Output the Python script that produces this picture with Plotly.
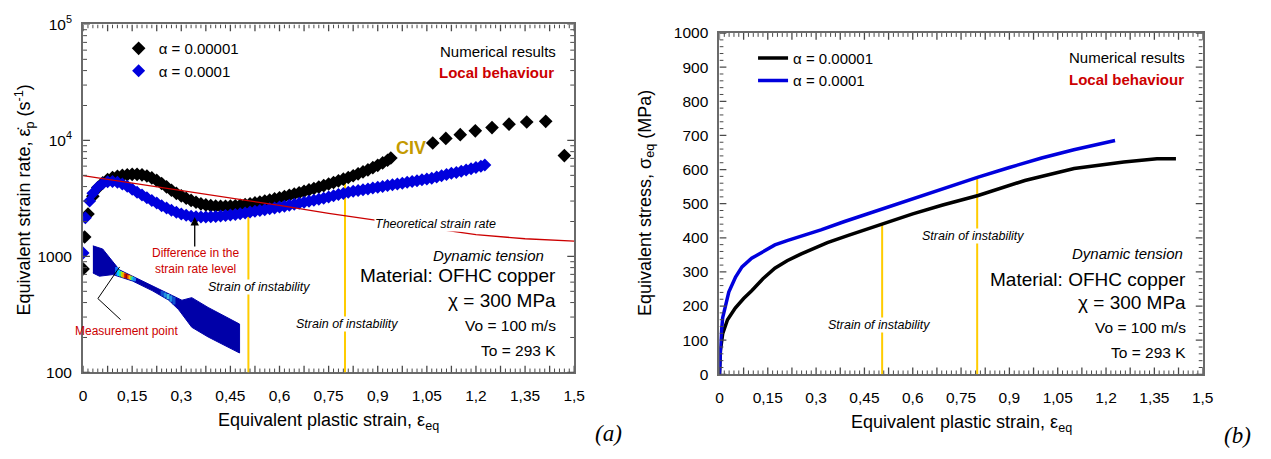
import numpy as np
import plotly.graph_objects as go

W, H = 1271, 459
FONT = "Liberation Sans, Arial, sans-serif"

# ---------------- data: left panel (strain rate, log axis) ----------------
bk_x = [0.0, 0.005, 0.015, 0.03, 0.045, 0.06, 0.075, 0.09, 0.105, 0.12, 0.135, 0.15, 0.165, 0.18,
        0.195, 0.21, 0.225, 0.24, 0.255, 0.27, 0.285, 0.3, 0.315, 0.33, 0.345, 0.36, 0.375, 0.39,
        0.405, 0.42, 0.435, 0.45, 0.465, 0.48, 0.495, 0.51, 0.525, 0.54, 0.555, 0.57, 0.585, 0.6,
        0.615, 0.63, 0.645, 0.66, 0.675, 0.69, 0.705, 0.72, 0.735, 0.75, 0.765, 0.78, 0.795, 0.81,
        0.825, 0.84, 0.855, 0.87, 0.885, 0.9, 0.915, 0.93, 0.94,
        1.068, 1.108, 1.152, 1.198, 1.249, 1.301, 1.355, 1.413, 1.47]
bk_y = [780, 1470, 2320, 3300, 3900, 4300, 4600, 4780, 4900, 4990, 5060, 5100, 5100, 5050,
        4930, 4750, 4520, 4250, 3980, 3720, 3500, 3330, 3170, 3040, 2930, 2840, 2780, 2740,
        2710, 2700, 2700, 2710, 2730, 2760, 2800, 2840, 2890, 2940, 3000, 3060, 3130, 3200,
        3280, 3360, 3450, 3540, 3640, 3740, 3850, 3960, 4080, 4210, 4340, 4480, 4630, 4790,
        4960, 5150, 5350, 5570, 5820, 6100, 6400, 6750, 7050,
        9500, 10400, 11200, 12100, 12900, 13800, 14400, 14600, 7400]

bl_x = [0.0, 0.007, 0.02, 0.03, 0.045, 0.06, 0.075, 0.09, 0.105, 0.12, 0.135, 0.15, 0.165, 0.18,
        0.195, 0.21, 0.225, 0.24, 0.255, 0.27, 0.285, 0.3, 0.315, 0.33, 0.345, 0.36, 0.375, 0.39,
        0.405, 0.42, 0.435, 0.45, 0.465, 0.48, 0.495, 0.51, 0.525, 0.54, 0.555, 0.57, 0.585, 0.6,
        0.615, 0.63, 0.645, 0.66, 0.675, 0.69, 0.705, 0.72, 0.735, 0.75, 0.765, 0.78, 0.795, 0.81,
        0.825, 0.84, 0.855, 0.87, 0.885, 0.9, 0.915, 0.93, 0.945, 0.96, 0.975, 0.99, 1.005, 1.02,
        1.035, 1.05, 1.065, 1.08, 1.095, 1.11, 1.125, 1.14, 1.155, 1.17, 1.185, 1.2, 1.215, 1.227]
bl_y = [1070, 2150, 3000, 3500, 3950, 4250, 4400, 4420, 4350, 4200, 4020, 3800, 3580, 3380,
        3200, 3030, 2880, 2740, 2610, 2500, 2400, 2320, 2260, 2220, 2200, 2190, 2190, 2200,
        2210, 2230, 2250, 2270, 2300, 2330, 2370, 2410, 2450, 2490, 2530, 2570, 2610, 2660,
        2710, 2760, 2810, 2870, 2930, 2990, 3050, 3110, 3180, 3250, 3330, 3410, 3490, 3580,
        3640, 3700, 3760, 3820, 3880, 3950, 4010, 4080, 4140, 4210, 4280, 4350, 4420, 4490,
        4570, 4640, 4720, 4830, 4950, 5080, 5200, 5300, 5420, 5560, 5700, 5850, 6000, 6130]

theo_x = [0, 0.15, 0.3, 0.45, 0.6, 0.75, 0.9, 1.05, 1.2, 1.35, 1.5]
theo_y = [4980, 4300, 3700, 3200, 2750, 2350, 2030, 1770, 1540, 1420, 1356]

instab_x = [0.505, 0.8]
instab_top_left = [2350, 4600]
instab_top_right = [442, 578]

# specimen picture (deformed bar) drawn in the strain-rate axes
spec_top_x = [0.030, 0.060, 0.111, 0.161, 0.232, 0.302, 0.332, 0.382, 0.478]
spec_top_y = [1233, 1158, 766, 654, 524, 419, 441, 363, 261]
spec_bot_x = [0.030, 0.050, 0.091, 0.151, 0.211, 0.262, 0.292, 0.332, 0.382, 0.478]
spec_bot_y = [720, 675, 697, 614, 507, 419, 347, 245, 202, 147]
stripe_x = [0.1026, 0.1087, 0.1147, 0.1207, 0.1253, 0.1298, 0.1343, 0.1388, 0.1434, 0.1479,
            0.1524, 0.157, 0.2415, 0.2505, 0.2596, 0.2686, 0.2777]
stripe_col = ["#1070ff", "#00d0ff", "#40e080", "#c0e000", "#ff9000", "#d02000", "#a00000",
              "#e04000", "#ffc000", "#80e040", "#00d0e0", "#2080f0",
              "#1050d0", "#2090e0", "#40c0e0", "#2090e0", "#1050d0"]

# ---------------- data: right panel (stress) ----------------
sbk_x = [0, 0.003, 0.01, 0.025, 0.049, 0.075, 0.10, 0.135, 0.172, 0.21, 0.254, 0.3, 0.335,
         0.4, 0.458, 0.509, 0.6, 0.693, 0.803, 0.948, 1.101, 1.255, 1.358, 1.417]
sbk_y = [0, 70, 119, 160, 194, 222, 245, 280, 311, 333, 353, 372, 386,
         407, 426, 442, 470, 496, 524, 568, 603, 622, 632, 632]
sbl_x = [0, 0.004, 0.01, 0.02, 0.029, 0.05, 0.07, 0.1, 0.131, 0.172, 0.21, 0.254, 0.315,
         0.386, 0.5, 0.6, 0.693, 0.803, 0.9, 1.0, 1.1, 1.228]
sbl_y = [0, 100, 166, 210, 241, 285, 315, 340, 358, 379, 392, 404, 423,
         447, 483, 515, 545, 578, 606, 634, 658, 685]

# tick labels
x_label_vals = [0, 0.15, 0.3, 0.45, 0.6, 0.75, 0.9, 1.05, 1.2, 1.35, 1.5]
x_label_text = ["0", "0,15", "0,3", "0,45", "0,6", "0,75", "0,9", "1,05", "1,2", "1,35", "1,5"]
y1_tick_vals = [100, 1000, 10000, 100000]
y1_tick_text = ["100", "1000", "10<sup>4</sup>", "10<sup>5</sup>"]
y2_tick_vals = [0, 100, 200, 300, 400, 500, 600, 700, 800, 900, 1000]
y2_tick_text = [str(v) for v in y2_tick_vals]

names = ["α = 0.00001", "α = 0.0001"]

assert len(bk_x) == len(bk_y) and len(bl_x) == len(bl_y)
assert len(sbk_x) == len(sbk_y) and len(sbl_x) == len(sbl_y)

BLACK = "#000000"
BLUE = "#0000dd"
RED = "#cc0000"
YEL = "#ffcc00"
TK = "#4a4a4a"

# tick-mark positions (axis structure)
x_major_marks = [round(i * 0.075, 4) for i in range(21)]
x_minor_marks = [round(i * 0.015, 4) for i in range(101) if i % 5 != 0]
y1_minor_marks = [k * 10 ** d for d in (2, 3, 4) for k in range(2, 10)]
y2_minor_marks = [v for v in range(0, 1001, 20) if v % 100 != 0]


def px(x):
    return x / W


def py(y):
    return 1 - y / H


fig = go.Figure()

yl_x, yl_y = [], []
for xv, top in zip(instab_x, instab_top_left):
    yl_x += [xv, xv, None]
    yl_y += [100, top, None]
fig.add_trace(go.Scatter(x=yl_x, y=yl_y, mode="lines", line=dict(color=YEL, width=2),
                         showlegend=False, xaxis="x", yaxis="y", hoverinfo="skip"))

poly_x = spec_top_x + spec_bot_x[::-1]
poly_y = spec_top_y + spec_bot_y[::-1]
fig.add_trace(go.Scatter(x=poly_x, y=poly_y, mode="lines", fill="toself", fillcolor="#0000a8",
                         line=dict(color="#0000a8", width=1), showlegend=False,
                         xaxis="x", yaxis="y", hoverinfo="skip"))
ltop = np.interp(stripe_x, spec_top_x, np.log10(spec_top_y))
lbot = np.interp(stripe_x, spec_bot_x, np.log10(spec_bot_y))
for xs, t, b, c in zip(stripe_x, ltop, lbot, stripe_col):
    fig.add_trace(go.Scatter(x=[xs, xs], y=[10 ** (t - 0.005), 10 ** (b + 0.005)], mode="lines",
                             line=dict(color=c, width=3), showlegend=False,
                             xaxis="x", yaxis="y", hoverinfo="skip"))

fig.add_trace(go.Scatter(x=bk_x, y=bk_y, mode="markers", name=names[0],
                         marker=dict(symbol="diamond", size=10.5, color=BLACK),
                         xaxis="x", yaxis="y", legend="legend"))
fig.add_trace(go.Scatter(x=bl_x, y=bl_y, mode="markers", name=names[1],
                         marker=dict(symbol="diamond", size=10, color=BLUE),
                         xaxis="x", yaxis="y", legend="legend"))
fig.add_trace(go.Scatter(x=theo_x, y=theo_y, mode="lines", line=dict(color=RED, width=1.3),
                         showlegend=False, xaxis="x", yaxis="y", hoverinfo="skip"))

yr_x, yr_y = [], []
for xv, top in zip(instab_x, instab_top_right):
    yr_x += [xv, xv, None]
    yr_y += [0, top, None]
fig.add_trace(go.Scatter(x=yr_x, y=yr_y, mode="lines", line=dict(color=YEL, width=2),
                         showlegend=False, xaxis="x2", yaxis="y2", hoverinfo="skip"))
fig.add_trace(go.Scatter(x=sbk_x, y=sbk_y, mode="lines", name=names[0],
                         line=dict(color=BLACK, width=3.5),
                         xaxis="x2", yaxis="y2", legend="legend2"))
fig.add_trace(go.Scatter(x=sbl_x, y=sbl_y, mode="lines", name=names[1],
                         line=dict(color=BLUE, width=3.5),
                         xaxis="x2", yaxis="y2", legend="legend2"))


# ---- inside tick marks drawn as line traces on each panel's own scales ----
def tick_trace(xa, ya, xs_bottom, ylo, yhi_lo, ytop, yhi_top, ys_left, xlo, xlen_lo,
               xhi, xlen_hi, width):
    tx, ty = [], []
    for v in xs_bottom:
        tx += [v, v, None, v, v, None]
        ty += [ylo, yhi_lo, None, ytop, yhi_top, None]
    for v in ys_left:
        tx += [xlo, xlen_lo, None, xhi, xlen_hi, None]
        ty += [v, v, None, v, v, None]
    fig.add_trace(go.Scatter(x=tx, y=ty, mode="lines", line=dict(color=TK, width=width),
                             showlegend=False, xaxis=xa, yaxis=ya, hoverinfo="skip",
                             cliponaxis=False))


# left panel: 331.3 px per x unit, 121 px per decade
fx_maj, fx_min = 7 / 121, 4 / 121          # decades
gx_maj, gx_min = 7 / 331.3, 4 / 331.3      # x units
tick_trace("x", "y", x_major_marks, 100, 100 * 10 ** fx_maj, 1e5, 1e5 / 10 ** fx_maj,
           y1_tick_vals, 0, gx_maj, 1.5, 1.5 - gx_maj, 1.3)
tick_trace("x", "y", x_minor_marks, 100, 100 * 10 ** fx_min, 1e5, 1e5 / 10 ** fx_min,
           y1_minor_marks, 0, gx_min, 1.5, 1.5 - gx_min, 1.0)
# right panel: 326 px per x unit, 0.356 px per MPa
hy_maj, hy_min = 7 / 0.356, 4 / 0.356
hx_maj, hx_min = 7 / 326, 4 / 326
tick_trace("x2", "y2", x_major_marks, 0, hy_maj, 1000, 1000 - hy_maj,
           y2_tick_vals, 0, hx_maj, 1.5, 1.5 - hx_maj, 1.3)
tick_trace("x2", "y2", x_minor_marks, 0, hy_min, 1000, 1000 - hy_min,
           y2_minor_marks, 0, hx_min, 1.5, 1.5 - hx_min, 1.0)

tickfont = dict(family=FONT, size=15.5, color="black")
common = dict(showline=True, linecolor="#6a6a6a", linewidth=2, mirror=True, ticks="",
              showgrid=False, zeroline=False, tickfont=tickfont, layer="below traces")

fig.update_layout(
    width=W, height=H, margin=dict(l=0, r=0, t=0, b=0),
    paper_bgcolor="white", plot_bgcolor="white",
    font=dict(family=FONT, color="black"),
    xaxis=dict(common, range=[0, 1.5], tickmode="array", tickvals=x_label_vals,
               ticktext=x_label_text, ticklabelstandoff=8,
               domain=[px(80), px(577)], anchor="y"),
    yaxis=dict(common, type="log", range=[2, 5], domain=[py(377), py(14)], anchor="x",
               tickmode="array", tickvals=y1_tick_vals, ticktext=y1_tick_text,
               ticklabelstandoff=6),
    xaxis2=dict(common, range=[0, 1.5], tickmode="array", tickvals=x_label_vals,
                ticktext=x_label_text, ticklabelstandoff=8,
                domain=[px(724), px(1213)], anchor="y2"),
    yaxis2=dict(common, range=[0, 1000], domain=[py(379), py(23)], anchor="x2",
                tickmode="array", tickvals=y2_tick_vals, ticktext=y2_tick_text,
                ticklabelstandoff=6),
    legend=dict(x=px(116), y=py(22), xanchor="left", yanchor="top", bgcolor="rgba(0,0,0,0)",
                font=dict(family=FONT, size=15), tracegroupgap=0, itemsizing="trace"),
    legend2=dict(x=px(758), y=py(32), xanchor="left", yanchor="top", bgcolor="rgba(0,0,0,0)",
                 font=dict(family=FONT, size=15), tracegroupgap=0),
)

shapes = []
# leader lines for measurement point
for (x0, y0, x1, y1) in [(95, 300, 117, 267), (95, 300, 118, 322)]:
    shapes.append(dict(type="line", xref="paper", yref="paper", x0=px(x0), y0=py(y0),
                       x1=px(x1), y1=py(y1), line=dict(color="black", width=1)))

ann = []


def txt(x, y, t, size=15, color="black", xanchor="center", bg=None, angle=0, family=FONT):
    d = dict(x=px(x), y=py(y), xref="paper", yref="paper", text=t, showarrow=False,
             xanchor=xanchor, yanchor="middle", textangle=angle,
             font=dict(family=family, size=size, color=color))
    if bg:
        d["bgcolor"] = bg
        d["borderpad"] = 0
    ann.append(d)


txt(561, 42, "Numerical results", 15, xanchor="right")
txt(559, 64, "<b>Local behaviour</b>", 15, RED, xanchor="right")
txt(412, 143, "<b>CIV</b>", 18, "#c49a00")
txt(437, 222, "<i>Theoretical strain rate</i>", 12.5, bg="white")
txt(548, 255, "<i>Dynamic tension</i>", 15, xanchor="right")
txt(561, 276, "Material: OFHC copper", 19, xanchor="right")
txt(561, 302, "χ = 300 MPa", 19, xanchor="right")
txt(561, 328, "Vo = 100 m/s", 15.5, xanchor="right")
txt(561, 354, "To = 293 K", 15.5, xanchor="right")
txt(258, 288, "<i>Strain of instability</i>", 12.5, bg="white")
txt(347, 326, "<i>Strain of instability</i>", 12.5, bg="white")
txt(194, 261, "Difference in the<br>strain rate level", 12, RED)
txt(124, 334, "Measurement point", 12, RED)
txt(328, 428, "Equivalent plastic strain, ε<sub>eq</sub>", 18)
txt(21, 197, "Equivalent strain rate, ε̇<sub>p</sub> (s<sup>-1</sup>)", 18, angle=-90)
txt(612, 441, "<i>(a)</i>", 23, family="Liberation Serif, Times New Roman, serif")

txt(1197, 49, "Numerical results", 15, xanchor="right")
txt(1196, 71, "<b>Local behaviour</b>", 15, RED, xanchor="right")
txt(1195, 253, "<i>Dynamic tension</i>", 15, xanchor="right")
txt(1198, 280, "Material: OFHC copper", 19, xanchor="right")
txt(1198, 304, "χ = 300 MPa", 19, xanchor="right")
txt(1198, 330, "Vo = 100 m/s", 15.5, xanchor="right")
txt(1198, 356, "To = 293 K", 15.5, xanchor="right")
txt(885, 328, "<i>Strain of instability</i>", 12.5, bg="white")
txt(981, 235, "<i>Strain of instability</i>", 12.5, bg="white")
txt(969, 430, "Equivalent plastic strain, ε<sub>eq</sub>", 18)
txt(650, 200, "Equivalent stress, σ<sub>eq</sub> (MPa)", 18, angle=-90)
txt(1248, 443, "<i>(b)</i>", 23, family="Liberation Serif, Times New Roman, serif")

ann.append(dict(x=px(193), y=py(215), xref="paper", yref="paper", ax=0, ay=31,
                axref="pixel", ayref="pixel", text="", showarrow=True, arrowhead=2,
                arrowsize=1.3, arrowwidth=1.3, arrowcolor="black"))

fig.update_layout(annotations=ann, shapes=shapes)

fig.write_html("out.html", config={"displayModeBar": False},
               post_script="document.body.style.margin='0';")
